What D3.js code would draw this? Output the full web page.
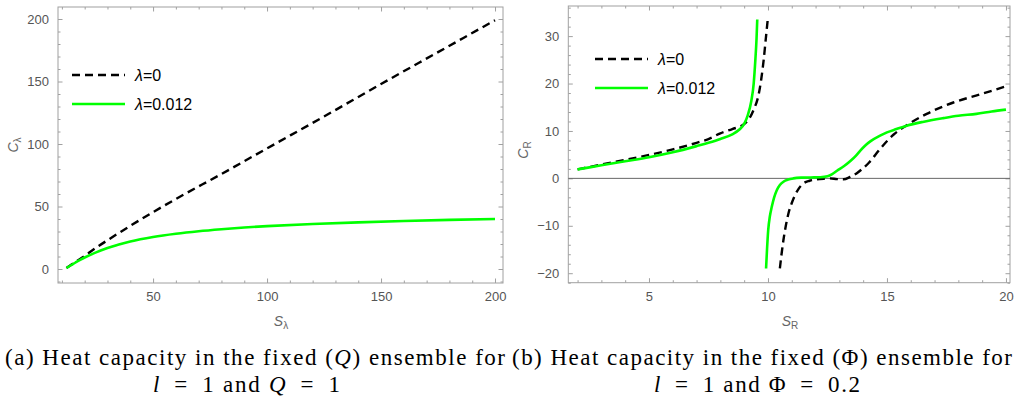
<!DOCTYPE html>
<html><head><meta charset="utf-8">
<script src="https://cdn.jsdelivr.net/npm/d3@7/dist/d3.min.js"></script>
<style>
html,body{margin:0;padding:0;background:#fff;}
svg{display:block;}
</style></head>
<body>
<svg id="c" width="1014" height="402"></svg>
<script>
// ---------- Panel (a) data: C_lambda vs S_lambda ----------
const aS_black = [12, 15, 20, 25, 30, 40, 50, 60, 80, 100, 125, 150, 175, 200];
const aC_black = [0.8, 4.5, 10.5, 17, 23, 34.5, 45.5, 56, 76, 96.5, 122, 148, 173.5, 199];
const aS_green = [12, 14, 16, 18, 20, 25, 30, 35, 40, 50, 60, 70, 80, 90, 100, 120, 140, 160, 180, 200];
const aC_green = [0.8, 3, 5.2, 7.3, 9.2, 13.3, 16.8, 19.6, 22, 25.6, 28.2, 30.2, 31.8, 33.2, 34.3, 36, 37.3, 38.4, 39.3, 40];
const aXTicks = [50, 100, 150, 200];
const aYTicks = [0, 50, 100, 150, 200];

// ---------- Panel (b) data: C_R vs S_R ----------
const bS_black1 = [2, 3, 4, 5, 6, 7, 7.5, 8, 8.5, 8.96, 9.2, 9.4, 9.6, 9.72, 9.82, 9.9, 9.99];
const bC_black1 = [1.9, 2.9, 3.9, 4.95, 6.1, 7.5, 8.3, 9.5, 10.4, 11.3, 12.5, 14.5, 17.5, 21, 25, 29, 33.5];
const bS_black2 = [10.5, 10.57, 10.65, 10.75, 10.86, 11.0, 11.14, 11.3, 11.49, 11.75, 12.05, 12.4, 12.6, 12.9, 13.17, 13.45, 13.72, 13.94, 14.24, 14.71, 15.27, 15.83, 16.67, 17.79, 18.91, 20];
const bC_black2 = [-19, -16, -13, -10, -7.4, -5.2, -3.5, -2.1, -1.05, -0.5, -0.2, -0.05, 0, -0.15, -0.2, 0.3, 1.05, 1.9, 3.3, 6.2, 9.2, 11.2, 13.6, 16.0, 17.7, 19.4];
const bS_green1 = [2, 3, 4, 5, 6, 7, 7.5, 8, 8.5, 8.8, 9.0, 9.15, 9.3, 9.4, 9.47, 9.52, 9.55];
const bC_green1 = [1.9, 2.75, 3.6, 4.45, 5.5, 6.8, 7.5, 8.3, 9.3, 10.3, 11.5, 13.3, 16.3, 20, 25, 29.5, 33.5];
const bS_green2 = [9.92, 9.96, 10.01, 10.08, 10.16, 10.26, 10.37, 10.5, 10.65, 10.85, 11.07, 11.4, 11.8, 12.2, 12.5, 12.7, 12.9, 13.2, 13.45, 13.7, 13.87, 14.1, 14.3, 14.71, 15.0, 15.4, 15.83, 16.5, 17.37, 18.0, 18.76, 19.4, 20];
const bC_green2 = [-19, -15, -10.9, -8, -6, -4, -2.5, -1.4, -0.7, -0.25, 0, 0.15, 0.2, 0.25, 0.45, 0.9, 1.6, 2.6, 3.6, 4.8, 5.8, 7.0, 7.8, 9.0, 9.7, 10.4, 11.1, 11.9, 12.7, 13.2, 13.6, 14.1, 14.5];
const bXTicks = [5, 10, 15, 20];
const bYTicks = [-20, -10, 0, 10, 20, 30];

const legendLabels = ["0", "0.012"];

// ---------- drawing ----------
const svg = d3.select("#c");
const FRAME = "#a0a0a0", TICKTXT = "#555", GREEN = "#00ff00";
const SANS = "'Liberation Sans', Arial, sans-serif";

function fmt(v){ return v < 0 ? "\u2212" + Math.abs(v) : String(v); }

function panel(cfg){
  const x = d3.scaleLinear().domain(cfg.xd).range(cfg.xr);
  const y = d3.scaleLinear().domain(cfg.yd).range(cfg.yr);
  const g = svg.append("g");
  const id = "clip" + cfg.name;
  svg.append("clipPath").attr("id", id).append("rect")
    .attr("x", cfg.xr[0]).attr("y", cfg.yr[1]).attr("width", cfg.xr[1]-cfg.xr[0]).attr("height", cfg.yr[0]-cfg.yr[1]);

  const minorX = d3.range(Math.ceil(cfg.xd[0]/cfg.xm)*cfg.xm, cfg.xd[1], cfg.xm).filter(v => !cfg.xt.some(t => Math.abs(t-v) < 1e-9));
  const minorY = d3.range(Math.ceil(cfg.yd[0]/cfg.ym)*cfg.ym, cfg.yd[1], cfg.ym).filter(v => !cfg.yt.some(t => Math.abs(t-v) < 1e-9));

  function axis(gen, scale, vals, size, pos, labels){
    const a = gen(scale).tickValues(vals).tickSizeInner(-size).tickSizeOuter(0)
      .tickFormat(labels ? fmt : () => "").tickPadding(labels ? 9 : 0);
    const ag = g.append("g").attr("transform", pos).call(a);
    ag.select(".domain").remove();
    ag.selectAll("line").attr("stroke", FRAME).attr("stroke-width", 1);
    ag.selectAll("text").attr("fill", TICKTXT).attr("font-family", SANS).attr("font-size", 13);
    return ag;
  }
  const bot = "translate(0," + cfg.yr[0] + ")", top = "translate(0," + cfg.yr[1] + ")";
  const lef = "translate(" + cfg.xr[0] + ",0)", rig = "translate(" + cfg.xr[1] + ",0)";
  axis(d3.axisBottom, x, cfg.xt, 4.5, bot, true);
  axis(d3.axisBottom, x, minorX, 2.5, bot, false);
  axis(d3.axisTop, x, cfg.xt, 4.5, top, false);
  axis(d3.axisTop, x, minorX, 2.5, top, false);
  axis(d3.axisLeft, y, cfg.yt, 4.5, lef, true);
  axis(d3.axisLeft, y, minorY, 2.5, lef, false);
  axis(d3.axisRight, y, cfg.yt, 4.5, rig, false);
  axis(d3.axisRight, y, minorY, 2.5, rig, false);

  g.append("rect").attr("x", cfg.xr[0]).attr("y", cfg.yr[1])
    .attr("width", cfg.xr[1]-cfg.xr[0]).attr("height", cfg.yr[0]-cfg.yr[1])
    .attr("fill", "none").attr("stroke", FRAME).attr("stroke-width", 1);

  if (cfg.zeroLine) {
    g.append("line").attr("x1", cfg.xr[0]).attr("x2", cfg.xr[1]).attr("y1", y(0)).attr("y2", y(0))
      .attr("stroke", "#666").attr("stroke-width", 1);
  }

  const line = d3.line().x(d => x(d[0])).y(d => y(d[1])).curve(d3.curveMonotoneX);
  const pg = g.append("g").attr("clip-path", "url(#" + id + ")");
  cfg.series.forEach(s => {
    const pts = s.xs.map((v, i) => [v, s.ys[i]]);
    const p = pg.append("path").attr("d", line(pts)).attr("fill", "none")
      .attr("stroke", s.color).attr("stroke-width", s.w).attr("stroke-linejoin", "round");
    if (s.dash) p.attr("stroke-dasharray", s.dash);
  });

  // legend
  const L = cfg.legend;
  [["#000", "8,5", 2.4], [GREEN, null, 2.6]].forEach((st, i) => {
    const yy = L.y + i * L.dy;
    const ln = g.append("line").attr("x1", L.x).attr("x2", L.x + 53).attr("y1", yy).attr("y2", yy)
      .attr("stroke", st[0]).attr("stroke-width", st[2]);
    if (st[1]) ln.attr("stroke-dasharray", st[1]);
    const t = g.append("text").attr("x", L.x + 63).attr("y", yy + 5.8)
      .attr("font-family", SANS).attr("font-size", 16).attr("fill", "#000");
    t.append("tspan").attr("font-style", "italic").text("λ");
    t.append("tspan").text("=" + legendLabels[i]);
  });

  // axis labels
  const yl = g.append("text").attr("transform", "translate(" + cfg.ylab[0] + "," + cfg.ylab[1] + ") rotate(-90)")
    .attr("text-anchor", "middle").attr("fill", "#666")
    .attr("font-family", SANS).attr("font-size", 14);
  yl.append("tspan").attr("font-style", "italic").text("C");
  yl.append("tspan").attr("font-size", 10).attr("dy", 3).text(cfg.sub);
  const xl = g.append("text").attr("x", cfg.xlab[0]).attr("y", cfg.xlab[1])
    .attr("text-anchor", "middle").attr("fill", "#666")
    .attr("font-family", SANS).attr("font-size", 14);
  xl.append("tspan").attr("font-style", "italic").text("S");
  xl.append("tspan").attr("font-size", 10).attr("dy", 3).text(cfg.sub);
}

panel({
  name: "a", xd: [8.3, 203.5], xr: [58, 503], yd: [-11.2, 209.6], yr: [283, 7],
  xt: aXTicks, yt: aYTicks, xm: 10, ym: 10, zeroLine: false,
  series: [
    {xs: aS_black, ys: aC_black, color: "#000", w: 2.4, dash: "8,5"},
    {xs: aS_green, ys: aC_green, color: GREEN, w: 2.6}
  ],
  legend: {x: 72, y: 75, dy: 29},
  ylab: [18, 145], xlab: [281, 326], sub: "λ"
});

panel({
  name: "b", xd: [1.61, 20.17], xr: [568.3, 1010], yd: [-22, 36.35], yr: [282.7, 6],
  xt: bXTicks, yt: bYTicks, xm: 1, ym: 2, zeroLine: true,
  series: [
    {xs: bS_black1, ys: bC_black1, color: "#000", w: 2.4, dash: "8,5"},
    {xs: bS_black2, ys: bC_black2, color: "#000", w: 2.4, dash: "8,5"},
    {xs: bS_green1, ys: bC_green1, color: GREEN, w: 2.6},
    {xs: bS_green2, ys: bC_green2, color: GREEN, w: 2.6}
  ],
  legend: {x: 595, y: 59, dy: 29},
  ylab: [528, 150], xlab: [790, 326], sub: "R"
});

// captions
const capFont = "'Liberation Serif', 'Times New Roman', serif";
function cap(x, y, len, parts){
  const t = svg.append("text").attr("x", x).attr("y", y).attr("font-family", capFont)
    .attr("font-size", 23).attr("fill", "#000");
  if (len) t.attr("textLength", len).attr("lengthAdjust", "spacing");
  parts.forEach(p => { const s = t.append("tspan").text(p.t); if (p.i) s.attr("font-style", "italic"); });
}
const EQ = "\u2002=\u2002";
cap(5, 365, 500, [{t: "(a) Heat capacity in the fixed ("}, {t: "Q", i: true}, {t: ") ensemble for"}]);
cap(153, 392, 187, [{t: "l", i: true}, {t: EQ + "1 and "}, {t: "Q", i: true}, {t: EQ + "1"}]);
cap(512, 365, 500, [{t: "(b) Heat capacity in the fixed (Φ) ensemble for"}]);
cap(654, 392, 206, [{t: "l", i: true}, {t: EQ + "1 and Φ" + EQ + "0.2"}]);
</script>
</body></html>
